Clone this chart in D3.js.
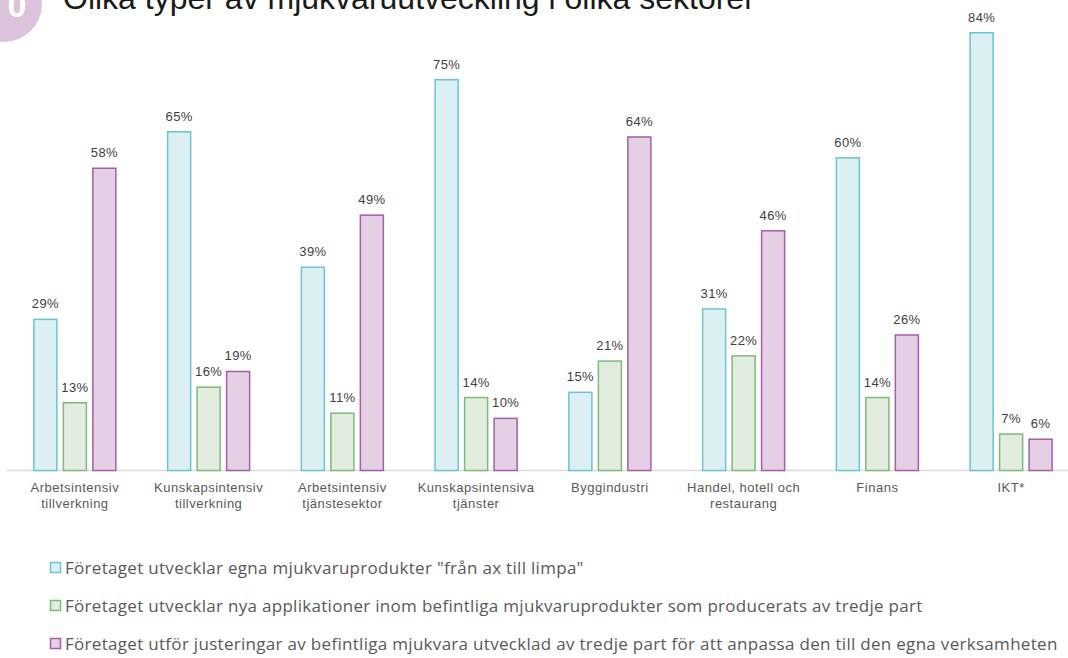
<!DOCTYPE html>
<html><head><meta charset="utf-8">
<script src="https://cdn.jsdelivr.net/npm/d3@7"></script>
<style>body{margin:0;background:#fff}svg{display:block}</style>
</head><body>
<svg id="c" width="1068" height="658"></svg>
<script>
const categories = [
  ["Arbetsintensiv","tillverkning"],
  ["Kunskapsintensiv","tillverkning"],
  ["Arbetsintensiv","tjänstesektor"],
  ["Kunskapsintensiva","tjänster"],
  ["Byggindustri"],
  ["Handel, hotell och","restaurang"],
  ["Finans"],
  ["IKT*"]
];
const seriesNames = [
  'Företaget utvecklar egna mjukvaruprodukter "från ax till limpa"',
  'Företaget utvecklar nya applikationer inom befintliga mjukvaruprodukter som producerats av tredje part',
  'Företaget utför justeringar av befintliga mjukvara utvecklad av tredje part för att anpassa den till den egna verksamheten'
];
const egna = [29, 65, 39, 75, 15, 31, 60, 84];
const nya = [13, 16, 11, 14, 21, 22, 14, 7];
const justeringar = [58, 19, 49, 10, 64, 46, 26, 6];
const seriesValues = [egna, nya, justeringar];
const strokes = ["#6cc4cf", "#7dbb7a", "#a45fa8"];
const fills = ["#dcEff3", "#e2ecdf", "#e4cfe4"];

const svg = d3.select("#c");
const font = "'Liberation Sans', Arial, sans-serif";

// badge
svg.append("circle").attr("cx", 4).attr("cy", 4).attr("r", 38).attr("fill", "#dcc3dc");
svg.append("text").attr("x", 17).attr("y", 17).attr("font-family", font).attr("font-size", 34)
  .attr("font-weight", "bold").attr("fill", "#fff").attr("text-anchor", "middle").text("0");
svg.append("text").attr("x", 63).attr("y", 9).attr("font-family", font).attr("font-size", 32)
  .attr("fill", "#1a1a1a").text("Olika typer av mjukvaruutveckling i olika sektorer");

const x0 = d3.scaleBand().domain(d3.range(categories.length)).range([8, 1078]);
const x1 = d3.scaleBand().domain([0,1,2]).range([0, 83]).paddingInner(0.186);
const y = d3.scaleLinear().domain([0, 90]).range([470.5, 1.5]);

svg.append("line").attr("x1", 7).attr("x2", 1068).attr("y1", 470.5).attr("y2", 470.5)
  .attr("stroke", "#d9d9d9").attr("stroke-width", 1.5);

const groups = svg.selectAll("g.grp").data(categories).join("g").attr("class","grp")
  .attr("transform", (d,i) => `translate(${x0(i) + x0.bandwidth()/2 - 41.5},0)`);

groups.each(function(cat, i) {
  const g = d3.select(this);
  seriesValues.forEach((vals, s) => {
    const v = vals[i];
    g.append("rect").attr("x", x1(s) + 0.5).attr("width", x1.bandwidth() - 1)
      .attr("y", y(v)).attr("height", y(0) - y(v))
      .attr("fill", fills[s]).attr("stroke", strokes[s]).attr("stroke-width", 1.5);
    g.append("text").attr("x", x1(s) + x1.bandwidth()/2).attr("y", y(v) - 11)
      .attr("text-anchor", "middle").attr("font-family", font).attr("font-size", 13)
      .attr("letter-spacing", 0.4).attr("fill", "#404040").text(v + "%");
  });
});

svg.selectAll("text.cat").data(categories).join("text").attr("class","cat")
  .attr("font-family", font).attr("font-size", 13).attr("letter-spacing", 0.5)
  .attr("fill", "#595959").attr("text-anchor","middle")
  .attr("transform", (d,i) => `translate(${x0(i) + x0.bandwidth()/2},492)`)
  .each(function(lines) {
    d3.select(this).selectAll("tspan").data(lines).join("tspan")
      .attr("x", 0).attr("dy", (d,j) => j === 0 ? 0 : 16).text(d => d);
  });

// legend
const lg = svg.selectAll("g.lg").data(seriesNames).join("g").attr("class","lg")
  .attr("transform", (d,i) => `translate(50,${568 + i*38})`);
lg.append("rect").attr("x", 0.5).attr("y", -5.5).attr("width", 10).attr("height", 10)
  .attr("fill", (d,i) => fills[i]).attr("stroke", (d,i) => strokes[i]).attr("stroke-width", 1.5);
lg.append("text").attr("x", 15).attr("y", 6).attr("font-family", "'Open Sans', Calibri, sans-serif")
  .attr("font-size", 17).attr("letter-spacing", 0.3).attr("fill", "#595959").text(d => d);
</script>
</body></html>
